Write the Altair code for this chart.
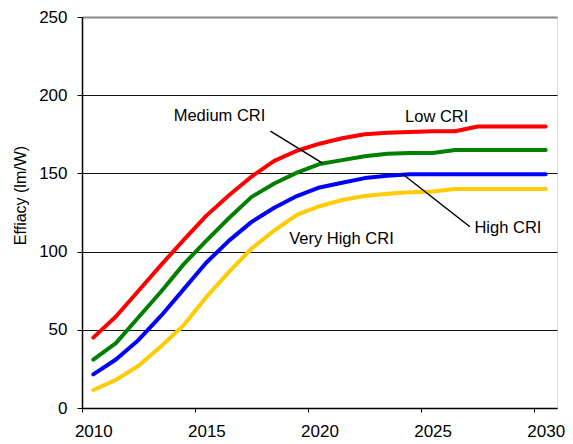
import altair as alt
import pandas as pd

years = list(range(2010, 2031))
low_cri = [45, 58.5, 75, 91.5, 107.5, 123, 136, 148, 158, 164.5, 169, 172.5, 175, 176, 176.5, 177, 177, 180, 180, 180, 180]
medium_cri = [31, 41.5, 58, 74.5, 92, 107, 121.5, 135, 143.5, 150.5, 156, 158.5, 161, 162.5, 163, 163, 165, 165, 165, 165, 165]
high_cri = [21.5, 31, 43.5, 59, 76, 93, 107, 119, 128, 135.5, 141, 144, 147, 148.5, 149.5, 149.5, 149.5, 149.5, 149.5, 149.5, 149.5]
very_high_cri = [11.5, 18, 27, 39.5, 53, 71, 87, 102, 113.5, 123.5, 129, 133, 135.5, 137, 138, 138.5, 140, 140, 140, 140, 140]

series_names = ["Low CRI", "Medium CRI", "High CRI", "Very High CRI"]
series_colors = ["#FF0000", "#008000", "#0000FF", "#FFCC00"]
x_ticks = [2010, 2015, 2020, 2025, 2030]
y_ticks = [0, 50, 100, 150, 200, 250]

label_text = ["Medium CRI", "Low CRI", "High CRI", "Very High CRI"]
label_x = [2015.58, 2025.18, 2028.33, 2020.97]
label_y = [186.5, 186.0, 115.1, 108.1]

leader_x = [2017.83, 2023.67]
leader_y = [177.1, 149.6]
leader_x2 = [2020.13, 2026.65]
leader_y2 = [156.6, 115.9]

rows = []
for name, vals in zip(series_names, [low_cri, medium_cri, high_cri, very_high_cri]):
    for yr, v in zip(years, vals):
        rows.append({"year": yr, "value": v, "series": name})
df = pd.DataFrame(rows)
labels_df = pd.DataFrame({"x": label_x, "y": label_y, "label": label_text})
leaders_df = pd.DataFrame({"x": leader_x, "y": leader_y, "x2": leader_x2, "y2": leader_y2})

FONT = "Liberation Sans"
TITLE_FONT = "Liberation Sans Narrow, Liberation Sans"
x_scale = alt.Scale(domain=[2009.5, 2030.5], nice=False, zero=False)
y_scale = alt.Scale(domain=[0, 250], nice=False)

lines = alt.Chart(df).mark_line(strokeWidth=4, strokeJoin="round", strokeCap="round").encode(
    x=alt.X("year:Q", scale=x_scale,
            axis=alt.Axis(values=x_ticks, format="d", title=None, grid=False,
                          tickOffset=-11.32, labelOffset=11.32, tickSize=4,
                          tickColor="black", domainColor="black", domainWidth=1.5,
                          labelFont=FONT, labelFontSize=17, labelColor="black",
                          labelPadding=11, labelFlush=False)),
    y=alt.Y("value:Q", scale=y_scale,
            axis=alt.Axis(values=y_ticks, title="Effiacy (lm/W)", grid=True,
                          gridColor=alt.condition("datum.value == 250", alt.value("#888888"), alt.value("#111111")),
                          gridWidth=alt.condition("datum.value == 250", alt.value(2), alt.value(1)),
                          tickSize=5, tickColor="black", domainColor="black", domainWidth=1.5,
                          labelFont=FONT, labelFontSize=17, labelColor="black", labelPadding=10,
                          titleFont=TITLE_FONT, titleFontSize=16, titleFontWeight="normal",
                          titleColor="black", titlePadding=10, titleY=178)),
    color=alt.Color("series:N", scale=alt.Scale(domain=series_names, range=series_colors), legend=None),
    detail="series:N",
)

texts = alt.Chart(labels_df).mark_text(font=FONT, fontSize=16.5, color="black", baseline="middle", align="center").encode(
    x=alt.X("x:Q", scale=x_scale),
    y=alt.Y("y:Q", scale=y_scale),
    text="label:N",
)

leaders = alt.Chart(leaders_df).mark_rule(color="black", strokeWidth=1.5).encode(
    x=alt.X("x:Q", scale=x_scale),
    y=alt.Y("y:Q", scale=y_scale),
    x2="x2:Q",
    y2="y2:Q",
)

chart = alt.layer(lines, leaders, texts).properties(
    width=475, height=391,
    autosize=alt.AutoSizeParams(type="none"),
    padding={"left": 74, "top": 9, "right": 8, "bottom": 36},
).configure_view(stroke="#888888", strokeWidth=2).configure(background="white")

chart.save("out.html", embed_options={"renderer": "svg", "actions": False})
